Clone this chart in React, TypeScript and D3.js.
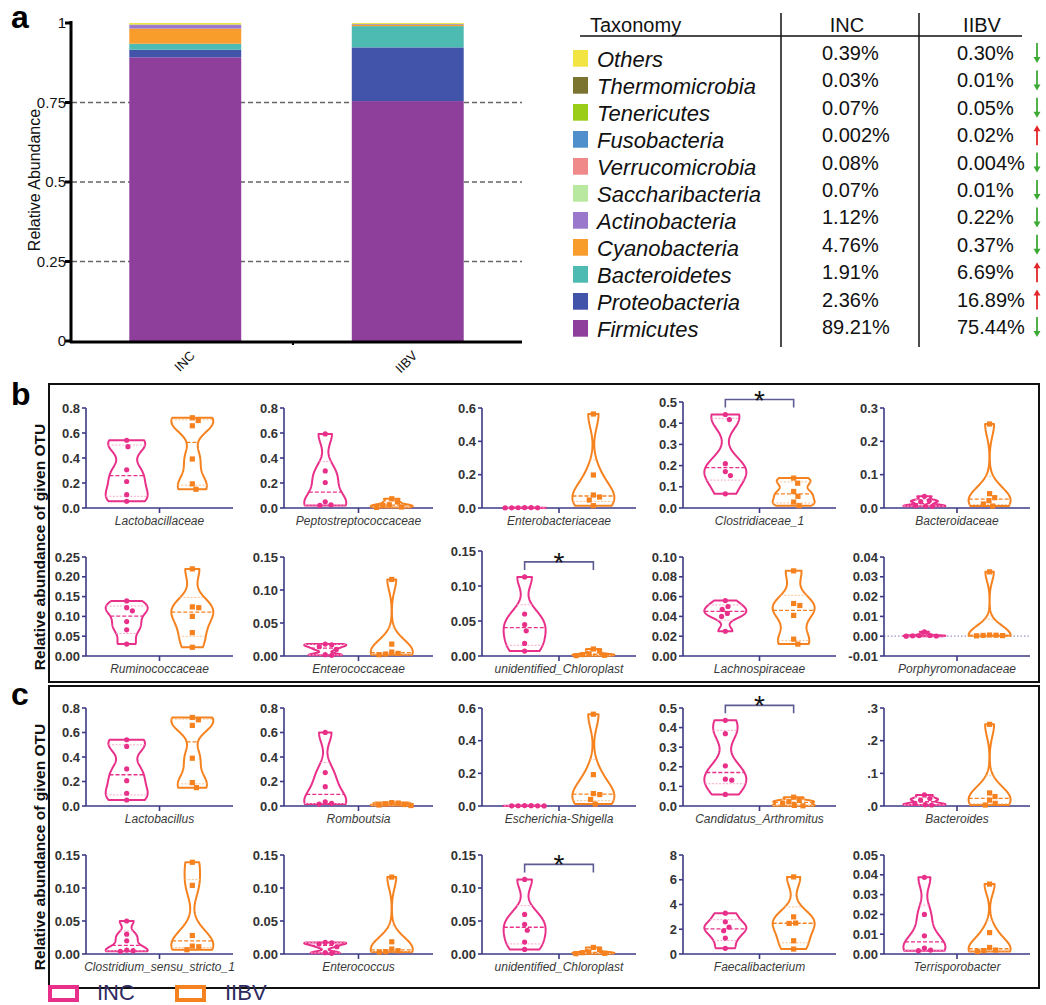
import React from "react";
import * as d3 from "d3";

// ---------- Panel a data ----------
const taxa = ["Others", "Thermomicrobia", "Tenericutes", "Fusobacteria", "Verrucomicrobia", "Saccharibacteria", "Actinobacteria", "Cyanobacteria", "Bacteroidetes", "Proteobacteria", "Firmicutes"];
const taxaColors = ["#F2E442", "#7B7431", "#9ACD1A", "#4F8FCB", "#F08A8A", "#B9E8A0", "#9A78CC", "#F89C2B", "#4EBBB3", "#4253AA", "#8E3F9B"];
const incShare = ["0.39%", "0.03%", "0.07%", "0.002%", "0.08%", "0.07%", "1.12%", "4.76%", "1.91%", "2.36%", "89.21%"];
const iibvShare = ["0.30%", "0.01%", "0.05%", "0.02%", "0.004%", "0.01%", "0.22%", "0.37%", "6.69%", "16.89%", "75.44%"];
const groups = ["INC", "IIBV"];
const barTicks = ["0", "0.25", "0.5", "0.75", "1"];

// ---------- Panel b data (families) ----------
const familyNames = ["Lactobacillaceae", "Peptostreptococcaceae", "Enterobacteriaceae", "Clostridiaceae_1", "Bacteroidaceae", "Ruminococcaceae", "Enterococcaceae", "unidentified_Chloroplast", "Lachnospiraceae", "Porphyromonadaceae"];
const familyTicks = [
  ["0.0", "0.2", "0.4", "0.6", "0.8"],
  ["0.0", "0.2", "0.4", "0.6", "0.8"],
  ["0.0", "0.2", "0.4", "0.6"],
  ["0.0", "0.1", "0.2", "0.3", "0.4", "0.5"],
  ["0.0", "0.1", "0.2", "0.3"],
  ["0.00", "0.05", "0.10", "0.15", "0.20", "0.25"],
  ["0.00", "0.05", "0.10", "0.15"],
  ["0.00", "0.05", "0.10", "0.15"],
  ["0.00", "0.02", "0.04", "0.06", "0.08", "0.10"],
  ["-0.01", "0.00", "0.01", "0.02", "0.03", "0.04"],
];
const familyINC = [
  [0.542, 0.491, 0.306, 0.212, 0.107, 0.054],
  [0.593, 0.297, 0.204, 0.05, 0.026, 0.021],
  [0.0025, 0.002, 0.0015, 0.001, 0.0008, 0.0005],
  [0.441, 0.417, 0.209, 0.172, 0.153, 0.067],
  [0.035, 0.022, 0.019, 0.007, 0.006, 0.005],
  [0.139, 0.122, 0.114, 0.087, 0.066, 0.03],
  [0.018, 0.017, 0.014, 0.01, 0.002, 0.001],
  [0.113, 0.06, 0.045, 0.036, 0.018, 0.007],
  [0.056, 0.05, 0.047, 0.043, 0.04, 0.025],
  [0.0022, 0.0004, 0.0003, 0.0002, 0.0001, 0.0],
];
const familyIIBV = [
  [0.722, 0.7, 0.658, 0.392, 0.193, 0.15],
  [0.074, 0.048, 0.026, 0.021, 0.008, 0.005],
  [0.564, 0.198, 0.078, 0.066, 0.048, 0.014],
  [0.141, 0.117, 0.078, 0.055, 0.028, 0.011],
  [0.252, 0.043, 0.031, 0.022, 0.012, 0.006],
  [0.22, 0.124, 0.122, 0.1, 0.059, 0.022],
  [0.116, 0.018, 0.006, 0.004, 0.003, 0.002],
  [0.01, 0.007, 0.003, 0.002, 0.001, 0.0005],
  [0.086, 0.053, 0.051, 0.041, 0.017, 0.012],
  [0.0325, 0.0006, 0.0005, 0.0004, 0.0003, 0.0002],
];
const familySignificant = ["Clostridiaceae_1", "unidentified_Chloroplast"];

// ---------- Panel c data (genera) ----------
const genusNames = ["Lactobacillus", "Romboutsia", "Escherichia-Shigella", "Candidatus_Arthromitus", "Bacteroides", "Clostridium_sensu_stricto_1", "Enterococcus", "unidentified_Chloroplast", "Faecalibacterium", "Terrisporobacter"];
const genusTicks = [
  ["0.0", "0.2", "0.4", "0.6", "0.8"],
  ["0.0", "0.2", "0.4", "0.6", "0.8"],
  ["0.0", "0.2", "0.4", "0.6"],
  ["0.0", "0.1", "0.2", "0.3", "0.4", "0.5"],
  [".0", ".1", ".2", ".3"],
  ["0.00", "0.05", "0.10", "0.15"],
  ["0.00", "0.05", "0.10", "0.15"],
  ["0.00", "0.05", "0.10", "0.15"],
  ["0", "2", "4", "6", "8"],
  ["0.00", "0.01", "0.02", "0.03", "0.04", "0.05"],
];
const genusINC = [
  [0.541, 0.486, 0.303, 0.207, 0.104, 0.049],
  [0.601, 0.273, 0.158, 0.033, 0.022, 0.016],
  [0.0025, 0.002, 0.0015, 0.001, 0.0008, 0.0005],
  [0.437, 0.369, 0.205, 0.137, 0.132, 0.059],
  [0.034, 0.023, 0.018, 0.008, 0.004, 0.003],
  [0.05, 0.03, 0.02, 0.006, 0.005, 0.004],
  [0.0175, 0.017, 0.015, 0.011, 0.002, 0.001],
  [0.113, 0.06, 0.045, 0.036, 0.018, 0.007],
  [3.3, 2.6, 2.17, 1.88, 1.29, 0.46],
  [0.0387, 0.02, 0.0092, 0.003, 0.002, 0.0017],
];
const genusIIBV = [
  [0.723, 0.704, 0.658, 0.39, 0.191, 0.15],
  [0.028, 0.024, 0.018, 0.012, 0.008, 0.004],
  [0.562, 0.192, 0.076, 0.07, 0.04, 0.012],
  [0.045, 0.028, 0.022, 0.014, 0.003, 0.001],
  [0.25, 0.04, 0.029, 0.018, 0.008, 0.003],
  [0.139, 0.104, 0.028, 0.012, 0.011, 0.0065],
  [0.1165, 0.0185, 0.0075, 0.005, 0.0035, 0.003],
  [0.01, 0.007, 0.003, 0.002, 0.001, 0.0005],
  [6.23, 3.0, 2.5, 2.47, 1.07, 0.4],
  [0.0353, 0.0108, 0.0033, 0.002, 0.0017, 0.0012],
];
const genusSignificant = ["Candidatus_Arthromitus", "unidentified_Chloroplast"];

// ---------- styling ----------
const FONT = "Arial, 'Liberation Sans', Helvetica, sans-serif";
const groupColor = { INC: "#E8308A", IIBV: "#F5821F" };
const groupLight = { INC: "#F7A9CB", IIBV: "#FAC291" };
const AXIS = "#3D3A84";

function prismQuantile(sorted: number[], p: number) {
  const n = sorted.length;
  const pos = p * (n + 1);
  if (pos <= 1) return sorted[0];
  if (pos >= n) return sorted[n - 1];
  const i = Math.floor(pos);
  return sorted[i - 1] + (pos - i) * (sorted[i] - sorted[i - 1]);
}

function swarm(values: number[], y: (v: number) => number, cx: number, D = 6.5) {
  const pts = values.map((v) => ({ v, py: y(v), x: cx })).sort((a, b) => b.v - a.v);
  const placed: { v: number; py: number; x: number }[] = [];
  pts.forEach((p) => {
    const cands = [0];
    placed.forEach((q) => {
      const dy = Math.abs(q.py - p.py);
      if (dy < D) {
        const dx = Math.sqrt(D * D - dy * dy);
        cands.push(q.x - cx + dx, q.x - cx - dx);
      }
    });
    cands.sort((a, b) => Math.abs(a) - Math.abs(b) || b - a);
    for (const off of cands) {
      const ok = placed.every((q) => Math.hypot(q.x - (cx + off), q.py - p.py) >= D - 0.01);
      if (ok) {
        p.x = cx + off;
        break;
      }
    }
    placed.push(p);
  });
  return placed;
}

function Violin({ values, cx, y, group }: any) {
  const color = groupColor[group];
  const light = groupLight[group];
  const sorted = [...values].sort((a, b) => a - b);
  const lo = sorted[0];
  const hi = sorted[sorted.length - 1];
  const range = hi - lo || 1e-6;
  const h = range * 0.15;
  const dens = (v: number) => d3.sum(values, (x: number) => Math.exp(-0.5 * ((v - x) / h) ** 2));
  const samples = d3.range(81).map((i) => lo + (range * i) / 80);
  const maxD = d3.max(samples, dens) as number;
  const w = d3.scaleLinear().domain([0, maxD]).range([0, 21]);
  const area = d3
    .area<number>()
    .y((v) => y(v))
    .x0((v) => cx - w(dens(v)))
    .x1((v) => cx + w(dens(v)))
    .curve(d3.curveLinear);
  const med = prismQuantile(sorted, 0.5);
  const q1 = prismQuantile(sorted, 0.25);
  const q3 = prismQuantile(sorted, 0.75);
  const pts = swarm(values, y, cx);
  return (
    <g>
      <path d={area(samples) || ""} fill="white" stroke={color} strokeWidth={2} strokeLinejoin="round" />
      {[q1, q3].map((q, i) => (
        <line key={i} x1={cx - w(dens(q))} x2={cx + w(dens(q))} y1={y(q)} y2={y(q)} stroke={light} strokeWidth={1} strokeDasharray="2 1.5" />
      ))}
      <line x1={cx - w(dens(med))} x2={cx + w(dens(med))} y1={y(med)} y2={y(med)} stroke={color} strokeWidth={1.3} strokeDasharray="4 2" />
      {pts.map((p, i) =>
        group === "INC" ? (
          <circle key={i} cx={p.x} cy={p.py} r={2.6} fill={color} />
        ) : (
          <rect key={i} x={p.x - 2.6} y={p.py - 2.6} width={5.2} height={5.2} fill={color} />
        )
      )}
    </g>
  );
}

function ViolinPanel({ name, ticks, inc, iibv, x0, x1, yTop, yBot, sig }: any) {
  const tv = ticks.map((t: string) => parseFloat(t));
  const y = d3.scaleLinear().domain([tv[0], tv[tv.length - 1]]).range([yBot, yTop]);
  const x = d3.scalePoint().domain(groups).range([x0, x1]).padding(0.62);
  const mid = (x0 + x1) / 2;
  const hasZeroLine = tv[0] < 0;
  const maxV = Math.max(d3.max(inc) as number, d3.max(iibv) as number);
  const by = y(maxV) - 15;
  return (
    <g>
      {hasZeroLine && <line x1={x0} x2={x1} y1={y(0)} y2={y(0)} stroke="#9C98C8" strokeWidth={1.2} strokeDasharray="1.5 2" />}
      <line x1={x0} x2={x0} y1={yTop} y2={yBot} stroke={AXIS} strokeWidth={1.6} />
      <line x1={x0} x2={x1} y1={yBot} y2={yBot} stroke={AXIS} strokeWidth={1.6} />
      <line x1={mid} x2={mid} y1={yBot} y2={yBot + 5} stroke={AXIS} strokeWidth={1.6} />
      {ticks.map((t: string, i: number) => (
        <g key={t}>
          <line x1={x0 - 4} x2={x0} y1={y(tv[i])} y2={y(tv[i])} stroke={AXIS} strokeWidth={1.6} />
          <text x={x0 - 6} y={y(tv[i])} dy="0.35em" textAnchor="end" fontSize={13} fontWeight="bold" fill="#333">
            {t}
          </text>
        </g>
      ))}
      <Violin values={inc} cx={x("INC")} y={y} group="INC" />
      <Violin values={iibv} cx={x("IIBV")} y={y} group="IIBV" />
      {sig && (
        <g>
          <path d={`M${x("INC")},${by + 8}V${by}H${x("IIBV")}V${by + 8}`} fill="none" stroke="#5E5B93" strokeWidth={1.6} />
          <text x={((x("INC") as number) + (x("IIBV") as number)) / 2} y={by + 10} textAnchor="middle" fontSize={28} fill="#111">
            *
          </text>
        </g>
      )}
      <text x={mid} y={yBot + 17} textAnchor="middle" fontSize={12} fontStyle="italic" fill="#3a3a3a">
        {name}
      </text>
    </g>
  );
}

const colX0 = [86, 284, 482, 683, 884];
const colX1 = [233, 433, 636, 836, 1030];

function ViolinGrid({ names, ticks, inc, iibv, significant, rows, topAdjust }: any) {
  return (
    <g>
      {names.map((n: string, i: number) => {
        const r = Math.floor(i / 5);
        const c = i % 5;
        const top = rows[r][0] + (topAdjust[i] || 0);
        return (
          <ViolinPanel key={n + i} name={n} ticks={ticks[i]} inc={inc[i]} iibv={iibv[i]} x0={colX0[c]} x1={colX1[c]} yTop={top} yBot={rows[r][1]} sig={significant.includes(n)} />
        );
      })}
    </g>
  );
}

function BarPanel() {
  const x = d3.scaleBand().domain(groups).range([71, 522]).paddingInner(0.497).paddingOuter(0.262);
  const tv = barTicks.map((t) => parseFloat(t));
  const y = d3.scaleLinear().domain([0, 1]).range([341, 23]);
  const rowsData = groups.map((g, gi) => {
    const o: any = { group: g };
    taxa.forEach((t, ti) => (o[t] = parseFloat((gi === 0 ? incShare : iibvShare)[ti]) / 100));
    return o;
  });
  const keys = [...taxa].reverse();
  const series = d3.stack().keys(keys)(rowsData);
  return (
    <g>
      {tv.filter((v) => v > 0 && v < 1).map((v) => (
        <line key={v} x1={72} x2={522} y1={y(v)} y2={y(v)} stroke="#666" strokeWidth={1.3} strokeDasharray="5 3" />
      ))}
      {series.map((s) => {
        const color = taxaColors[taxa.indexOf(s.key)];
        return s.map((d, i) => (
          <rect key={s.key + i} x={x(groups[i])} width={x.bandwidth()} y={y(Math.min(d[1], 1))} height={Math.max(0, y(d[0]) - y(Math.min(d[1], 1)))} fill={color} />
        ));
      })}
      <line x1={71} x2={71} y1={21} y2={343} stroke="#000" strokeWidth={3} />
      <line x1={70} x2={522} y1={342} y2={342} stroke="#000" strokeWidth={3} />
      <line x1={293} x2={293} y1={342} y2={345} stroke="#000" strokeWidth={2} />
      {barTicks.map((t, i) => (
        <g key={t}>
          <line x1={65} x2={71} y1={y(tv[i])} y2={y(tv[i])} stroke="#000" strokeWidth={3} />
          <text x={66} y={y(tv[i])} dy="0.36em" textAnchor="end" fontSize={15} fill="#111">
            {t}
          </text>
        </g>
      ))}
      {groups.map((g) => (
        <text key={g} transform={`translate(${(x(g) as number) + x.bandwidth() / 2 + 4},${350}) rotate(-45)`} textAnchor="end" dy="0.7em" fontSize={13} fill="#111">
          {g}
        </text>
      ))}
      <text transform="translate(40,180) rotate(-90)" textAnchor="middle" fontSize={16} fill="#111">
        Relative Abundance
      </text>
    </g>
  );
}

function TablePanel() {
  const nameY = (i: number) => 66.7 + 27 * i;
  const valY = (i: number) => 60 + 27.4 * i;
  return (
    <g>
      <text x={590} y={32} fontSize={20} fill="#111">Taxonomy</text>
      <text x={847} y={32} fontSize={20} textAnchor="middle" fill="#111">{groups[0]}</text>
      <text x={982} y={32} fontSize={20} textAnchor="middle" fill="#111">{groups[1]}</text>
      <line x1={580} x2={1022} y1={36} y2={36} stroke="#111" strokeWidth={1.5} />
      <line x1={781} x2={781} y1={13} y2={347} stroke="#111" strokeWidth={1.5} />
      <line x1={919} x2={919} y1={13} y2={347} stroke="#111" strokeWidth={1.5} />
      {taxa.map((t, i) => {
        const up = parseFloat(iibvShare[i]) > parseFloat(incShare[i]);
        const vb = valY(i);
        const ac = up ? "#E3262B" : "#3DAA35";
        const top = vb - 17;
        const bot = vb + 3;
        return (
          <g key={t}>
            <rect x={573} y={nameY(i) - 16.7} width={15} height={16.7} fill={taxaColors[i]} />
            <text x={597} y={nameY(i)} fontSize={22} fontStyle="italic" fill="#111">{t}</text>
            <text x={822} y={vb} fontSize={20} fill="#111">{incShare[i]}</text>
            <text x={957} y={vb} fontSize={20} fill="#111">{iibvShare[i]}</text>
            {up ? (
              <g>
                <line x1={1037} x2={1037} y1={top + 3} y2={bot} stroke={ac} strokeWidth={1.8} />
                <path d={`M${1033.5},${top + 6}L1037,${top}L${1040.5},${top + 6}Z`} fill={ac} />
              </g>
            ) : (
              <g>
                <line x1={1037} x2={1037} y1={top} y2={bot - 3} stroke={ac} strokeWidth={1.8} />
                <path d={`M${1033.5},${bot - 6}L1037,${bot}L${1040.5},${bot - 6}Z`} fill={ac} />
              </g>
            )}
          </g>
        );
      })}
    </g>
  );
}

export default function App() {
  return (
    <svg width={1046} height={1005} style={{ position: "absolute", left: 0, top: 0, background: "white" }} fontFamily={FONT}>
      <rect x={0} y={0} width={1046} height={1005} fill="white" />
      <text x={11} y={28} fontSize={32} fontWeight="bold" fill="#000">a</text>
      <text x={11} y={405} fontSize={32} fontWeight="bold" fill="#000">b</text>
      <text x={11} y={705} fontSize={32} fontWeight="bold" fill="#000">c</text>
      <BarPanel />
      <TablePanel />
      <rect x={49} y={384} width={990} height={298} fill="none" stroke="#111" strokeWidth={2} />
      <rect x={49} y={686} width={990} height={302} fill="none" stroke="#111" strokeWidth={2} />
      <text transform="translate(45,547) rotate(-90)" textAnchor="middle" fontSize={15.5} fontWeight="bold" fill="#111">
        Relative abundance of given OTU
      </text>
      <text transform="translate(45,847) rotate(-90)" textAnchor="middle" fontSize={15.5} fontWeight="bold" fill="#111">
        Relative abundance of given OTU
      </text>
      <ViolinGrid names={familyNames} ticks={familyTicks} inc={familyINC} iibv={familyIIBV} significant={familySignificant} rows={[[408, 508], [557, 656]]} topAdjust={{ 3: -6, 7: -6 }} />
      <ViolinGrid names={genusNames} ticks={genusTicks} inc={genusINC} iibv={genusIIBV} significant={genusSignificant} rows={[[708, 806], [855, 954]]} topAdjust={{}} />
      <rect x={50} y={987} width={27} height={13} fill="none" stroke={groupColor.INC} strokeWidth={4} />
      <text x={97} y={1000} fontSize={22} fill="#2E2B5F">{groups[0]}</text>
      <rect x={177} y={987} width={27} height={13} fill="none" stroke={groupColor.IIBV} strokeWidth={4} />
      <text x={225} y={1000} fontSize={22} fill="#2E2B5F">{groups[1]}</text>
    </svg>
  );
}
